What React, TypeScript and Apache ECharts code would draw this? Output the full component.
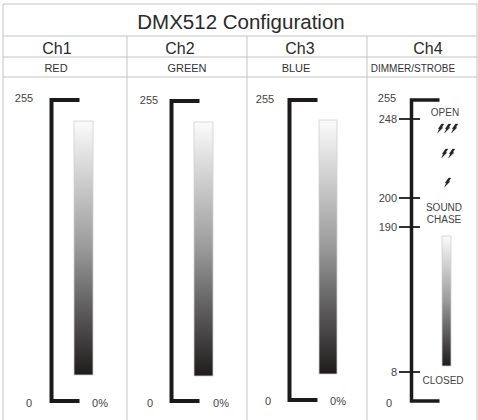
import React, { useEffect, useRef } from "react";
import * as echarts from "echarts";

// ---- data ----
const title = "DMX512 Configuration";
const channels = ["Ch1", "Ch2", "Ch3", "Ch4"];
const functions = ["RED", "GREEN", "BLUE", "DIMMER/STROBE"];
const maxLabel = "255";
const minLabel = "0";
const percentLabel = "0%";
const ch4Ticks = ["248", "200", "190", "8"];
const ch4Zones = ["OPEN", "SOUND\nCHASE", "CLOSED"];
const strobeCounts = [3, 2, 1];

// ---- layout (pixels) ----
const L = {
  left: 3, right: 477, top: 4, bottom: 420,
  rowTitle: 36, rowCh: 57, rowFn: 77,
  colEdges: [3, 127, 247, 367, 477],
  chX: [57, 180, 300, 428],
  fnX: [56, 187, 296, 413],
  brX: [51.5, 171.5, 289.5, 411.5],
  brTop: [100, 101, 100, 100],
  brBot: [401, 401, 400, 401],
  brLen: 28,
  barX: [74, 194, 319, 442],
  barW: [19, 19, 18, 9],
  barTop: [121, 122, 120, 236],
  barBot: [375, 376, 374, 366],
  maxX: [24, 149, 265, 387],
  maxY: [98, 100, 99, 98],
  zeroX: [29, 150, 268, 389],
  zeroY: [403, 403, 401, 403],
  pctX: [100, 221, 338],
  ticksY: [119, 198, 227, 372],
  tickX1: 399, tickX2: 420, tickLabelX: 397,
  zoneX: [445, 444, 443], zoneY: [112, 213, 380],
  strobeTop: [124, 149, 178], strobeX: [437, 441, 444], strobeGap: 7,
};

const FONT = '"Liberation Sans", Arial, sans-serif';
const dark = "#1c1a1a";
const gridColor = "#c4c4c4";

function buildGraphic() {
  const els: any[] = [];
  const hline = (y: number) => ({ type: "line", shape: { x1: L.left, y1: y, x2: L.right, y2: y }, style: { stroke: gridColor, lineWidth: 1 } });
  const vline = (x: number, y1: number, y2: number) => ({ type: "line", shape: { x1: x, y1, x2: x, y2 }, style: { stroke: gridColor, lineWidth: 1 } });
  els.push(hline(L.top), hline(L.rowTitle), hline(L.rowCh), hline(L.rowFn));
  els.push(vline(L.left, L.top, L.bottom), vline(L.right, L.top, L.bottom));
  L.colEdges.slice(1, -1).forEach((x) => els.push(vline(x, L.rowTitle, L.bottom)));

  els.push({ type: "text", style: { text: title, x: 241, y: 21, fill: "#2a2a2a", font: `20.5px ${FONT}`, textAlign: "center", textVerticalAlign: "middle" } });

  channels.forEach((ch, i) => {
    els.push({ type: "text", style: { text: ch, x: L.chX[i], y: 48, fill: "#2a2a2a", font: `16px ${FONT}`, textAlign: "center", textVerticalAlign: "middle" } });
    els.push({ type: "text", style: { text: functions[i], x: L.fnX[i], y: 68, fill: "#333", font: `${i === 3 ? 10 : 11}px ${FONT}`, textAlign: "center", textVerticalAlign: "middle" } });
    const x = L.brX[i];
    els.push({
      type: "polyline",
      shape: { points: [[x + L.brLen, L.brTop[i]], [x, L.brTop[i]], [x, L.brBot[i]], [x + L.brLen, L.brBot[i]]] },
      style: { stroke: dark, lineWidth: i === 3 ? 3.5 : 4, fill: "none", lineJoin: "miter" },
    });
    els.push({
      type: "rect",
      shape: { x: L.barX[i], y: L.barTop[i], width: L.barW[i], height: L.barBot[i] - L.barTop[i] },
      style: {
        stroke: "#d0d0d0", lineWidth: 0.8,
        fill: new echarts.graphic.LinearGradient(0, 0, 0, 1, [
          { offset: 0, color: "#fbfbfb" },
          { offset: 0.5, color: "#9a9a9a" },
          { offset: 1, color: "#1e1b1b" },
        ]),
      },
    });
    els.push({ type: "text", style: { text: maxLabel, x: L.maxX[i], y: L.maxY[i], fill: "#444", font: `11px ${FONT}`, textAlign: "center", textVerticalAlign: "middle" } });
    els.push({ type: "text", style: { text: minLabel, x: L.zeroX[i], y: L.zeroY[i], fill: "#444", font: `11px ${FONT}`, textAlign: "center", textVerticalAlign: "middle" } });
    if (i < 3) {
      els.push({ type: "text", style: { text: percentLabel, x: L.pctX[i], y: L.zeroY[i], fill: "#444", font: `11px ${FONT}`, textAlign: "center", textVerticalAlign: "middle" } });
    }
  });

  ch4Ticks.forEach((t, k) => {
    const y = L.ticksY[k];
    els.push({ type: "line", shape: { x1: L.tickX1, y1: y, x2: L.tickX2, y2: y }, style: { stroke: dark, lineWidth: 1.8 } });
    els.push({ type: "text", style: { text: t, x: L.tickLabelX, y, fill: "#444", font: `11px ${FONT}`, textAlign: "right", textVerticalAlign: "middle" } });
  });
  ch4Zones.forEach((z, k) => {
    els.push({ type: "text", style: { text: z, x: L.zoneX[k], y: L.zoneY[k], fill: "#444", font: `10px ${FONT}`, textAlign: "center", textVerticalAlign: "middle", lineHeight: 12 } });
  });
  const bolt = [[4.5, 0], [7, 0], [4.6, 3.6], [6, 3.6], [0.5, 9], [2.4, 4.8], [1.2, 4.8]];
  strobeCounts.forEach((n, k) => {
    for (let j = 0; j < n; j++) {
      const bx = L.strobeX[k] + j * L.strobeGap;
      const by = L.strobeTop[k];
      els.push({
        type: "polygon",
        shape: { points: bolt.map(([px, py]) => [bx + px, by + py]) },
        style: { fill: "#222", stroke: "#222", lineWidth: 0.3 },
      });
    }
  });
  return els;
}

export default function App() {
  const ref = useRef<HTMLDivElement>(null);
  useEffect(() => {
    document.body.style.margin = "0";
    if (!ref.current) return;
    const chart = echarts.init(ref.current, null, { renderer: "svg" });
    chart.setOption({
      animation: false,
      backgroundColor: "#ffffff",
      graphic: buildGraphic(),
    });
    return () => chart.dispose();
  }, []);
  return <div ref={ref} style={{ width: 478, height: 420 }} />;
}
